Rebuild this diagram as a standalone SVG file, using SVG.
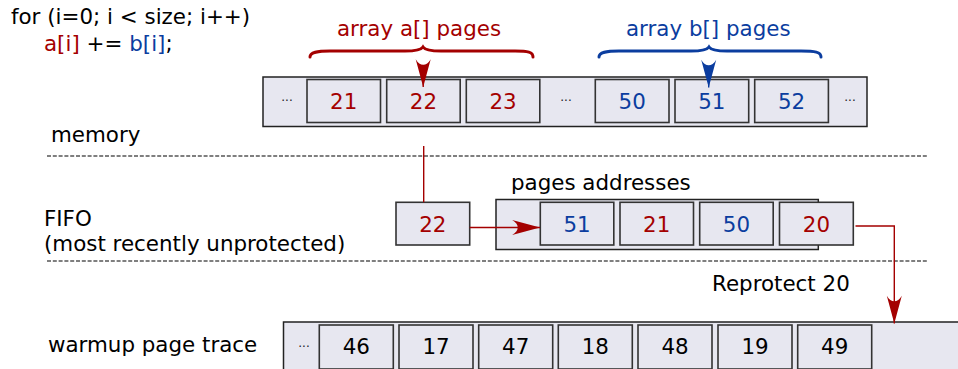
<svg xmlns="http://www.w3.org/2000/svg" width="958" height="369" viewBox="0 0 958 369">
<defs>
<style>
text{font-family:"DejaVu Sans","Liberation Sans",sans-serif;font-size:21.4px;fill:#000}
.n{text-anchor:middle}
.red{fill:#a40000}
.blue{fill:#0b3d9f}
.dots{font-size:12px;text-anchor:middle;fill:#222}
.strip{fill:#e7e7f0;stroke:#222;stroke-width:1.5}
.box{fill:#e7e7f0;stroke:#333;stroke-width:1.6}
.sep{stroke:#000;stroke-width:1.1;stroke-dasharray:4,1.8;fill:none}
.rl{stroke:#a40000;stroke-width:1.4;fill:none}
.bl{stroke:#0b3d9f;stroke-width:1.4;fill:none}
.brace-r{stroke:#a40000;stroke-width:3;fill:none;stroke-linecap:round}
.brace-b{stroke:#0b3d9f;stroke-width:3;fill:none;stroke-linecap:round}
</style>
<marker id="ar" markerUnits="userSpaceOnUse" markerWidth="30" markerHeight="20" viewBox="-27 -8 28 16" refX="0" refY="0" orient="auto">
<path d="M0,0 L-26,-7 C-19,-3 -19,3 -26,7 Z" fill="#a40000"/>
</marker>
<marker id="ab" markerUnits="userSpaceOnUse" markerWidth="30" markerHeight="20" viewBox="-27 -8 28 16" refX="0" refY="0" orient="auto">
<path d="M0,0 L-26,-7 C-19,-3 -19,3 -26,7 Z" fill="#0b3d9f"/>
</marker>
</defs>
<rect width="958" height="369" fill="#fff"/>

<g id="code">
<text x="11" y="24">for (i=0; i &lt; size; i++)</text>
<text x="44" y="51"><tspan class="red">a[i]</tspan> += <tspan class="blue">b[i]</tspan>;</text>
</g>

<g id="labels">
<text x="51" y="142">memory</text>
<text x="44" y="226">FIFO</text>
<text x="44" y="251">(most recently unprotected)</text>
<text x="511" y="190">pages addresses</text>
<text x="712" y="291">Reprotect 20</text>
<text x="48" y="352">warmup page trace</text>
</g>

<g id="separators">
<line class="sep" x1="47" y1="156" x2="928" y2="156"/>
<line class="sep" x1="47" y1="261" x2="928" y2="261"/>
</g>

<g id="brace-a">
<path class="brace-r" d="M310,57 C310,52 317,51 330,51 L405,51 C416,51 421,50 423,47 C425,50 430,51 441,51 L515,51 C528,51 533,52 533,57"/>
<text class="red" x="337" y="36">array a[] pages</text>
</g>
<g id="brace-b">
<path class="brace-b" d="M599,57 C599,52 606,51 619,51 L691,51 C702,51 707,50 709,47 C711,50 716,51 727,51 L801,51 C815,51 821,52 821,57"/>
<text class="blue" x="626" y="36">array b[] pages</text>
</g>

<g id="memory">
<rect class="strip" x="263" y="77" width="604" height="49.5"/>
<text class="dots" x="287" y="101">...</text>
<text class="dots" x="566" y="101">...</text>
<text class="dots" x="850" y="101">...</text>
<g id="m21"><rect class="box" x="307" y="79.5" width="73.5" height="43"/><text class="n red" x="343.7" y="109">21</text></g>
<g id="m22"><rect class="box" x="386.7" y="79.5" width="73.5" height="43"/><text class="n red" x="423.4" y="109">22</text></g>
<g id="m23"><rect class="box" x="466.3" y="79.5" width="73.5" height="43"/><text class="n red" x="503" y="109">23</text></g>
<g id="m50"><rect class="box" x="595.3" y="79.5" width="73.7" height="43"/><text class="n blue" x="632.2" y="109">50</text></g>
<g id="m51"><rect class="box" x="675" y="79.5" width="73.7" height="43"/><text class="n blue" x="711.8" y="109">51</text></g>
<g id="m52"><rect class="box" x="754.7" y="79.5" width="73.7" height="43"/><text class="n blue" x="791.5" y="109">52</text></g>
</g>

<g id="fifo-in">
<rect class="box" x="396" y="202.3" width="73.7" height="42.7"/><text class="n red" x="432.8" y="232">22</text>
</g>

<g id="fifo">
<rect class="strip" x="496" y="199.5" width="322.3" height="50"/>
<g id="f51"><rect class="box" x="540.3" y="202.3" width="73.5" height="42.7"/><text class="n blue" x="577" y="232">51</text></g>
<g id="f21"><rect class="box" x="620" y="202.3" width="73.5" height="42.7"/><text class="n red" x="656.7" y="232">21</text></g>
<g id="f50"><rect class="box" x="699.7" y="202.3" width="73.5" height="42.7"/><text class="n blue" x="736.4" y="232">50</text></g>
<g id="f20"><rect class="box" x="779.5" y="202.3" width="73.8" height="42.7"/><text class="n red" x="816.4" y="232">20</text></g>
</g>

<g id="warmup">
<rect class="strip" x="283.5" y="322" width="700" height="60"/>
<text class="dots" x="304" y="347">...</text>
<g id="w46"><rect class="box" x="319.3" y="325" width="74" height="44"/><text class="n" x="356.3" y="354">46</text></g>
<g id="w17"><rect class="box" x="399" y="325" width="74" height="44"/><text class="n" x="436" y="354">17</text></g>
<g id="w47"><rect class="box" x="478.7" y="325" width="74" height="44"/><text class="n" x="515.7" y="354">47</text></g>
<g id="w18"><rect class="box" x="558.3" y="325" width="74" height="44"/><text class="n" x="595.3" y="354">18</text></g>
<g id="w48"><rect class="box" x="638" y="325" width="74" height="44"/><text class="n" x="675" y="354">48</text></g>
<g id="w19"><rect class="box" x="718" y="325" width="74" height="44"/><text class="n" x="755" y="354">19</text></g>
<g id="w49"><rect class="box" x="797.7" y="325" width="74" height="44"/><text class="n" x="834.7" y="354">49</text></g>
</g>

<g id="connectors">
<path class="rl" d="M423.2,70 L423.2,87" marker-end="url(#ar)"/>
<path class="bl" d="M708.7,70 L708.7,87.5" marker-end="url(#ab)"/>
<path class="rl" d="M423.7,146 L423.7,202.3"/>
<path class="rl" d="M469.7,227.5 L540,227.5" marker-end="url(#ar)"/>
<path class="rl" d="M855.5,226 L894.3,226 L894.3,323.5" marker-end="url(#ar)"/>
</g>
</svg>
